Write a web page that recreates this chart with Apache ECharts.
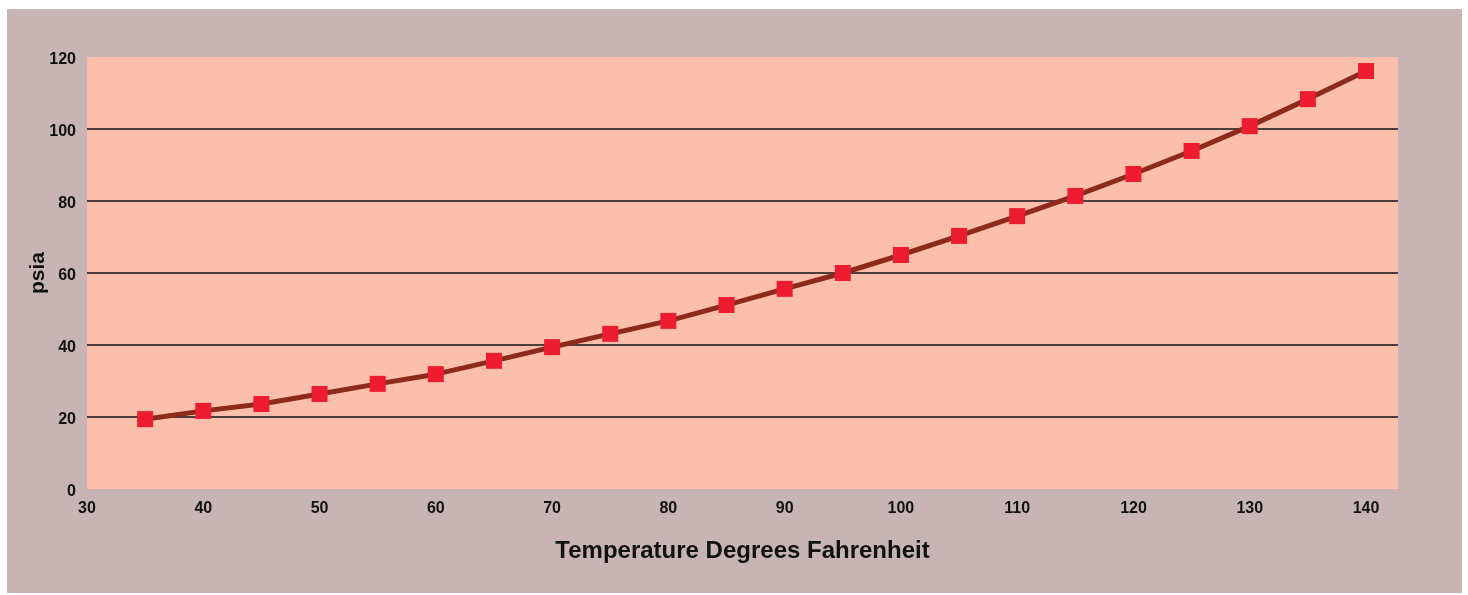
<!DOCTYPE html>
<html><head><meta charset="utf-8">
<script src="https://cdn.jsdelivr.net/npm/echarts@6/dist/echarts.min.js"></script>
<style>
html,body{margin:0;padding:0;background:#ffffff;width:1468px;height:595px;overflow:hidden;}
#c{position:absolute;left:7px;top:9px;width:1455px;height:584px;}
</style></head><body>
<div id="c"></div>
<script>
const temperatures = [35,40,45,50,55,60,65,70,75,80,85,90,95,100,105,110,115,120,125,130,135,140];
const pressures = [19.4,21.7,23.6,26.4,29.2,31.9,35.6,39.4,43.1,46.7,51.1,55.6,60.0,65.0,70.3,75.8,81.4,87.5,93.9,100.8,108.3,116.1];
const xTitle = 'Temperature Degrees Fahrenheit';
const yTitle = 'psia';

const chart = echarts.init(document.getElementById('c'));
const font = '"Liberation Sans", Arial, sans-serif';
chart.setOption({
  backgroundColor: '#c8b4b5',
  animation: false,
  grid: {left: 80, right: 64, top: 48, bottom: 104, show: true, backgroundColor: '#fbbfab', borderWidth: 0},
  xAxis: {
    type: 'value', min: 30, max: 142.75, interval: 10,
    name: xTitle, nameLocation: 'middle', nameGap: 50,
    nameTextStyle: {fontFamily: font, fontWeight: 'bold', fontSize: 24, color: '#111'},
    axisLine: {show: false}, axisTick: {show: false}, splitLine: {show: false},
    axisLabel: {showMaxLabel: false, margin: 12, fontFamily: font, fontWeight: 'bold', fontSize: 16, color: '#111',
      formatter: v => (v % 10 === 0 ? String(v) : '')}
  },
  yAxis: {
    type: 'value', min: 0, max: 120, interval: 20,
    name: yTitle, nameLocation: 'middle', nameGap: 38, nameMoveOverlap: false,
    nameTextStyle: {fontFamily: font, fontWeight: 'bold', fontSize: 21, color: '#111'},
    axisLine: {show: false}, axisTick: {show: false},
    splitLine: {show: true, showMinLine: false, showMaxLine: false, lineStyle: {color: '#4d3d3c', width: 2}},
    axisLabel: {margin: 11, fontFamily: font, fontWeight: 'bold', fontSize: 16, color: '#111',
      formatter: v => '{a|' + v + '}',
      rich: {a: {fontFamily: font, fontWeight: 'bold', fontSize: 16, color: '#111', padding: [6, 0, 0, 0]}}}
  },
  series: [{
    type: 'line',
    data: temperatures.map((t, i) => [t, pressures[i]]),
    lineStyle: {color: '#8d2a1b', width: 5},
    symbol: 'rect', symbolSize: 16,
    itemStyle: {color: '#ed1c2e'},
    z: 2
  }]
});
</script>
</body></html>
